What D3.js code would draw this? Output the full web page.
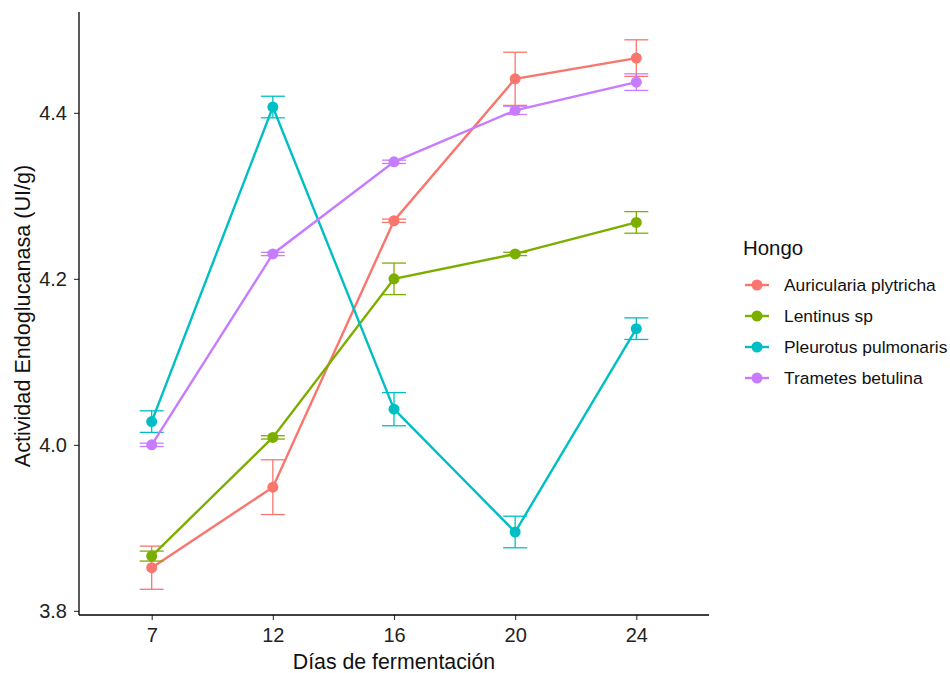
<!DOCTYPE html>
<html>
<head>
<meta charset="utf-8">
<script src="https://cdn.jsdelivr.net/npm/d3@7"></script>
<style>
  body { margin: 0; background: #fff; }
  svg { font-family: "Liberation Sans", Arial, sans-serif; }
</style>
</head>
<body>
<svg id="chart" width="950" height="673"></svg>
<script>
const days = ['7', '12', '16', '20', '24'];
const hongos = ['Auricularia plytricha', 'Lentinus sp', 'Pleurotus pulmonaris', 'Trametes betulina'];
const colors = ['#F8766D', '#7CAE00', '#00BFC4', '#C77CFF'];

// mean and standard error per day
const auriculariaMean = [3.852, 3.949, 4.270, 4.441, 4.466];
const auriculariaErr = [0.026, 0.033, 0.002, 0.032, 0.022];
const lentinusMean = [3.866, 4.009, 4.200, 4.230, 4.268];
const lentinusErr = [0.006, 0.002, 0.019, 0.002, 0.013];
const pleurotusMean = [4.028, 4.407, 4.043, 3.895, 4.140];
const pleurotusErr = [0.013, 0.013, 0.020, 0.019, 0.013];
const trametesMean = [4.000, 4.230, 4.341, 4.403, 4.437];
const trametesErr = [0.002, 0.002, 0.002, 0.005, 0.010];

const yTicks = [3.8, 4.0, 4.2, 4.4];

const means = [auriculariaMean, lentinusMean, pleurotusMean, trametesMean];
const errs = [auriculariaErr, lentinusErr, pleurotusErr, trametesErr];

const series = hongos.map((name, i) => ({
  name,
  color: colors[i],
  values: days.map((d, j) => ({ day: d, mean: means[i][j], err: errs[i][j] }))
}));

const svg = d3.select('#chart');
const plotLeft = 79, plotRight = 709, plotTop = 12, plotBottom = 615;

const x = d3.scalePoint()
  .domain(days)
  .range([plotLeft, plotRight])
  .padding(0.6);

const y = d3.scaleLinear()
  .domain([3.795, 4.5215])
  .range([plotBottom, plotTop]);

// axes
const xAxis = svg.append('g')
  .attr('transform', `translate(0,${plotBottom})`)
  .call(d3.axisBottom(x).tickSize(5).tickPadding(8));
const yAxis = svg.append('g')
  .attr('transform', `translate(${plotLeft},0)`)
  .call(d3.axisLeft(y).tickValues(yTicks).tickFormat(d3.format('.1f')).tickSize(5).tickPadding(7));

[xAxis, yAxis].forEach(a => {
  a.select('.domain').remove();
  a.selectAll('.tick line').attr('stroke', '#333').attr('stroke-width', 1.1);
  a.selectAll('.tick text')
    .attr('fill', '#222')
    .style('font-family', '"Liberation Sans", Arial, sans-serif')
    .style('font-size', '20px');
});

svg.append('line')
  .attr('x1', plotLeft).attr('x2', plotRight)
  .attr('y1', plotBottom).attr('y2', plotBottom)
  .attr('stroke', '#000').attr('stroke-width', 1.3);
svg.append('line')
  .attr('x1', plotLeft).attr('x2', plotLeft)
  .attr('y1', plotTop).attr('y2', plotBottom)
  .attr('stroke', '#000').attr('stroke-width', 1.3);

// axis titles
svg.append('text')
  .attr('x', (plotLeft + plotRight) / 2)
  .attr('y', 669)
  .attr('text-anchor', 'middle')
  .style('font-size', '21.3px')
  .attr('fill', '#111')
  .text('Días de fermentación');

svg.append('text')
  .attr('transform', `translate(30,316) rotate(-90)`)
  .attr('text-anchor', 'middle')
  .style('font-size', '21.6px')
  .attr('fill', '#111')
  .text('Actividad Endoglucanasa (UI/g)');

// series
const line = d3.line()
  .x(d => x(d.day))
  .y(d => y(d.mean));

const groups = svg.append('g')
  .selectAll('g.serie')
  .data(series)
  .join('g')
  .attr('class', 'serie');

groups.selectAll('g.err')
  .data(s => s.values.map(v => ({ ...v, color: s.color })))
  .join('g')
  .attr('class', 'err')
  .attr('stroke', d => d.color)
  .attr('stroke-width', 1.3)
  .each(function(d) {
    const g = d3.select(this);
    const cx = x(d.day);
    g.append('line')
      .attr('x1', cx).attr('x2', cx)
      .attr('y1', y(d.mean - d.err)).attr('y2', y(d.mean + d.err));
    g.append('line')
      .attr('x1', cx - 12).attr('x2', cx + 12)
      .attr('y1', y(d.mean - d.err)).attr('y2', y(d.mean - d.err));
    g.append('line')
      .attr('x1', cx - 12).attr('x2', cx + 12)
      .attr('y1', y(d.mean + d.err)).attr('y2', y(d.mean + d.err));
  });

groups.append('path')
  .attr('d', s => line(s.values))
  .attr('fill', 'none')
  .attr('stroke', s => s.color)
  .attr('stroke-width', 2.4);

groups.selectAll('circle')
  .data(s => s.values.map(v => ({ ...v, color: s.color })))
  .join('circle')
  .attr('cx', d => x(d.day))
  .attr('cy', d => y(d.mean))
  .attr('r', 5.5)
  .attr('fill', d => d.color);

// legend
const legend = svg.append('g').attr('transform', 'translate(743,0)');
legend.append('text')
  .attr('x', 0).attr('y', 255)
  .style('font-size', '20.4px')
  .attr('fill', '#111')
  .text('Hongo');

const items = legend.selectAll('g.item')
  .data(series)
  .join('g')
  .attr('class', 'item')
  .attr('transform', (d, i) => `translate(0,${285 + i * 31})`);

items.append('line')
  .attr('x1', 2).attr('x2', 26)
  .attr('stroke', d => d.color)
  .attr('stroke-width', 2.4);
items.append('circle')
  .attr('cx', 14).attr('r', 5.5)
  .attr('fill', d => d.color);
items.append('text')
  .attr('x', 41).attr('dy', '0.35em')
  .style('font-size', '17.4px')
  .attr('fill', '#111')
  .text(d => d.name);
</script>
</body>
</html>
